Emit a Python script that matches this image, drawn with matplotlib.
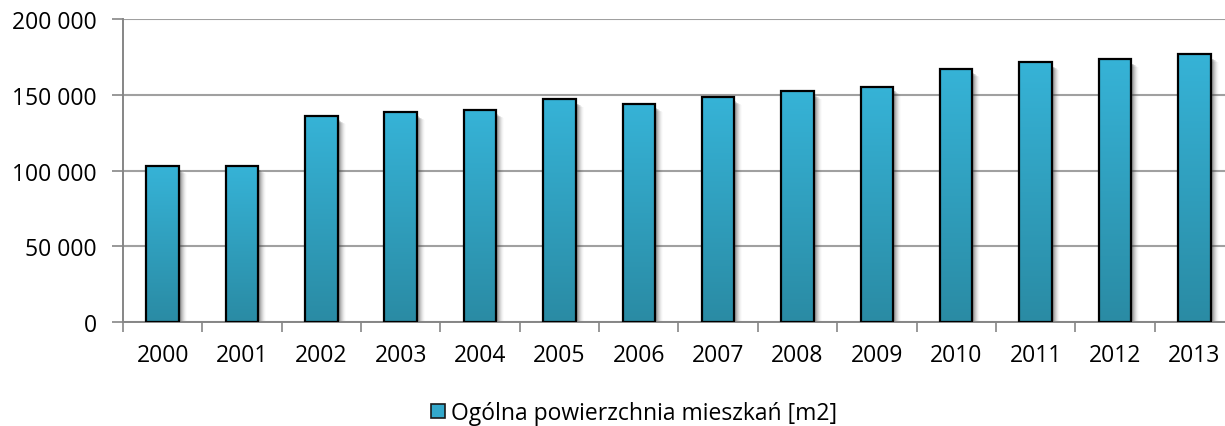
import numpy as np
import matplotlib
matplotlib.use("Agg")
import matplotlib.pyplot as plt
from matplotlib.ticker import FuncFormatter
from matplotlib.patches import Rectangle
from matplotlib.colors import LinearSegmentedColormap

# Values
years = ["2000", "2001", "2002", "2003", "2004", "2005", "2006",
         "2007", "2008", "2009", "2010", "2011", "2012", "2013"]
area = [102900, 103300, 135900, 138500, 139800, 147000, 144000,
        148400, 152300, 155400, 167000, 171400, 173400, 176700]
legend_label = "Ogólna powierzchnia mieszkań [m2]"

plt.rcParams["font.family"] = ["Open Sans", "DejaVu Sans"]

fig = plt.figure(figsize=(12.25, 4.27), dpi=100)
ax = fig.add_axes([0.1004, 0.2436, 1.0073 - 0.1004, 0.953 - 0.2436])

x = np.arange(len(years))
width = 0.41
px = 1.0 / 79.4  # one pixel in x data units

grad_cmap = LinearSegmentedColormap.from_list("bar", ["#2A8BA4", "#36B3D7"])
grad = np.linspace(0, 1, 256).reshape(-1, 1)

# soft shadow on the right side of each bar
for xi, h in zip(x, area):
    for k, a in zip(range(1, 9), [0.24, 0.20, 0.16, 0.12, 0.09, 0.06, 0.04, 0.02]):
        ax.add_patch(Rectangle((xi - width / 2 + k * px, 0), width,
                               h - 3 * 658 - k * 400, facecolor="#404040",
                               edgecolor="none", alpha=a, zorder=2))

# gradient fill
for xi, h in zip(x, area):
    ax.imshow(grad, cmap=grad_cmap, origin="lower", aspect="auto",
              extent=(xi - width / 2, xi + width / 2, 0, h), zorder=3)

ax.bar(x, area, width=width, fill=False, edgecolor="#000000",
       linewidth=1.6, zorder=4)

ax.set_xlim(-0.5, len(years) - 0.5)
ax.set_ylim(0, 200000)
ax.set_yticks(np.arange(0, 200001, 50000))
ax.yaxis.set_major_formatter(
    FuncFormatter(lambda v, p: f"{int(v):,}".replace(",", " ")))
ax.set_xticks(x)
ax.set_xticklabels(years)
ax.set_xticks(np.arange(-0.5, len(years), 1.0), minor=True)
ax.tick_params(axis="x", which="major", length=0, pad=15, labelsize=16.5)
ax.tick_params(axis="x", which="minor", length=7, color="#868686", width=1.2)
ax.tick_params(axis="y", length=8, color="#868686", width=1.2,
               pad=11, labelsize=16.5)

ax.grid(axis="y", color="#A0A0A0", linewidth=1.5, zorder=0)
ax.set_axisbelow(True)
for s in ["top", "right"]:
    ax.spines[s].set_visible(False)
for s in ["left", "bottom"]:
    ax.spines[s].set_color("#868686")
    ax.spines[s].set_linewidth(1.4)

handle = Rectangle((0, 0), 1, 1, facecolor="#33A8CB", edgecolor="#1A1A1A",
                   linewidth=1.2)
fig.legend([handle], [legend_label], loc="center", bbox_to_anchor=(0.5176, 0.03),
           frameon=False, fontsize=16.5, handlelength=0.6, handleheight=0.6,
           handletextpad=0.25, borderpad=0)

plt.savefig("out.png", dpi=100)
